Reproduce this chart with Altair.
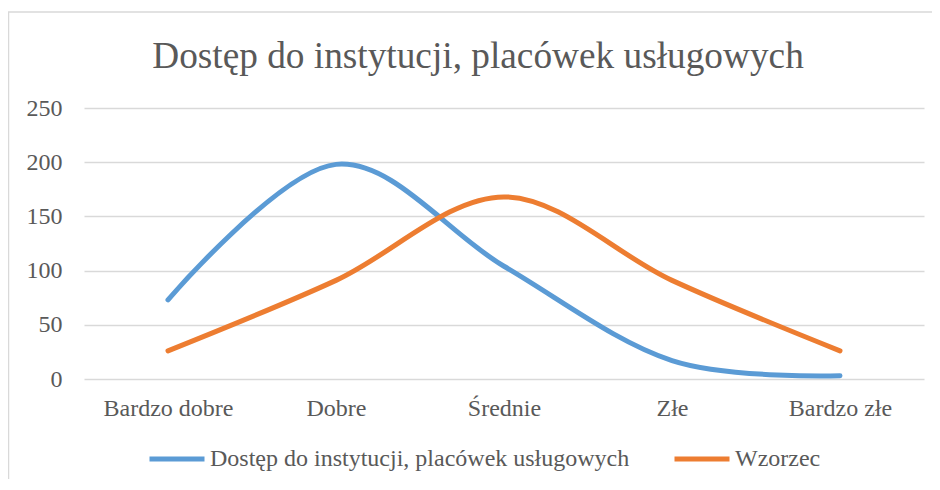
import altair as alt
import pandas as pd

categories = ["Bardzo dobre", "Dobre", "Średnie", "Złe", "Bardzo złe"]
access = [73, 198, 104, 17, 3]
pattern = [26, 91, 168, 91, 26]
series_names = ["Dostęp do instytucji, placówek usługowych", "Wzorzec"]
colors = ["#5B9BD5", "#ED7D31"]
y_ticks = [0, 50, 100, 150, 200, 250]

rows = []
for name, vals in zip(series_names, [access, pattern]):
    for i, (c, v) in enumerate(zip(categories, vals)):
        rows.append({"kat": c, "wartosc": v, "seria": name, "ord": i})
df = pd.DataFrame(rows)

FONT = "Liberation Serif"
TXT = "#595959"
GRID = "#D9D9D9"

lines = alt.Chart(df).mark_line(
    interpolate="cardinal", strokeWidth=5, strokeCap="round", strokeJoin="round"
).encode(
    x=alt.X("kat:N", sort=categories, title=None,
            scale=alt.Scale(type="point", padding=0.5),
            axis=alt.Axis(labelAngle=0, tickSize=0, ticks=False, domain=False, grid=False,
                          labelPadding=36, labelBaseline="alphabetic",
                          labelFont=FONT, labelFontSize=24, labelColor=TXT)),
    y=alt.Y("wartosc:Q", title=None,
            scale=alt.Scale(domain=[0, 250], nice=False),
            axis=alt.Axis(values=y_ticks, tickSize=0, ticks=False, domain=False,
                          grid=True, gridColor=GRID, gridWidth=1.5,
                          labelPadding=22, labelFont=FONT, labelFontSize=24,
                          labelColor=TXT)),
    color=alt.Color("seria:N", sort=series_names,
                    scale=alt.Scale(domain=series_names, range=colors),
                    legend=alt.Legend(title=None, orient="none", direction="horizontal",
                                      legendX=63, legendY=321,
                                      symbolType="stroke", symbolSize=3025,
                                      symbolStrokeWidth=5, labelOffset=3,
                                      columnPadding=34, labelLimit=700,
                                      labelFont=FONT, labelFontSize=24,
                                      labelColor=TXT)),
    order="ord:Q",
)

frame_data = alt.Data(values=[{"a": 1}])
frame = alt.Chart(frame_data).mark_rect(
    fill="transparent", stroke=GRID, strokeWidth=1.5
).encode(
    x=alt.value(-75.5), x2=alt.value(1200), y=alt.value(-96), y2=alt.value(800)
)

chart = alt.layer(frame, lines).properties(
    width=840,
    height=271,
    autosize=alt.AutoSizeParams(type="none"),
    padding={"left": 76, "top": 100, "right": 8, "bottom": 100},
    background="white",
    title=alt.TitleParams(
        text="Dostęp do instytucji,  placówek usługowych",
        font=FONT, fontSize=37.3, fontWeight="normal", color=TXT,
        anchor="middle", dx=-26, dy=123, baseline="alphabetic", offset=29,
    ),
).configure_view(strokeWidth=0, stroke="transparent")

chart.save("out.html", embed_options={"renderer": "svg", "actions": False})
